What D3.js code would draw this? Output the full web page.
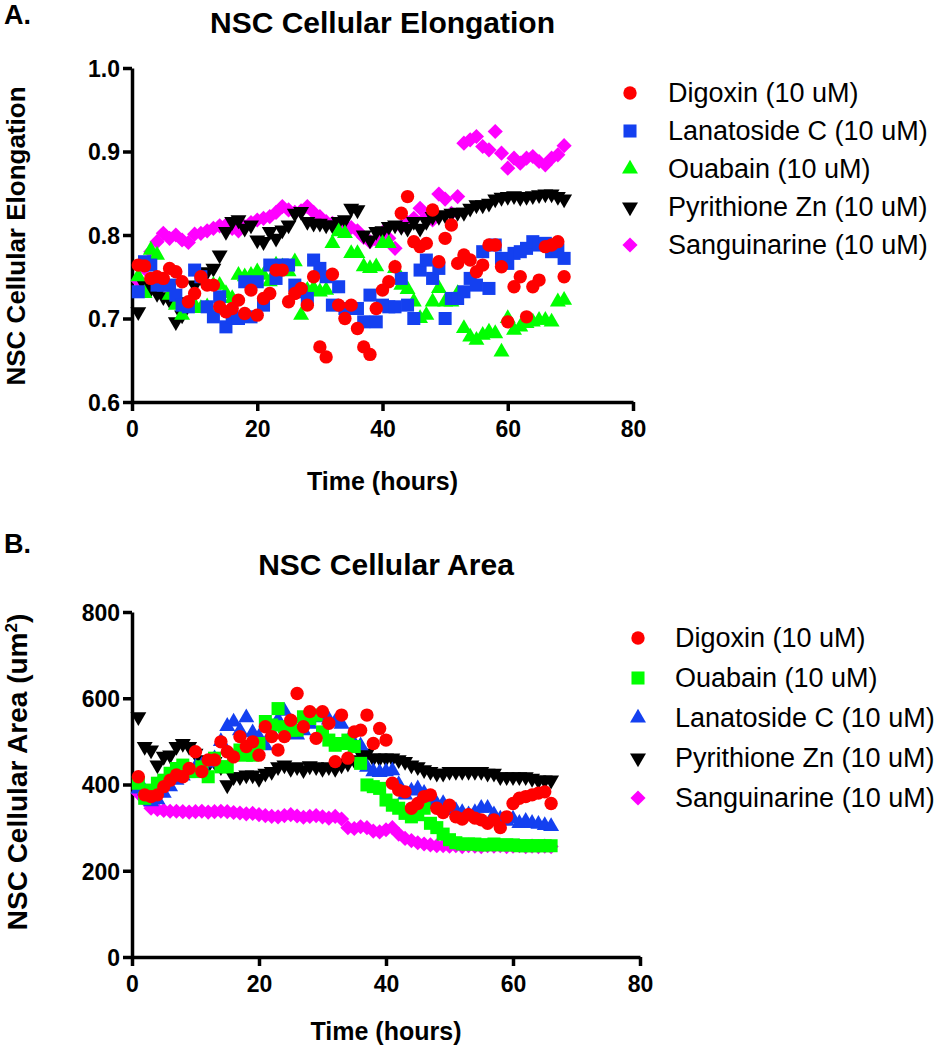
<!DOCTYPE html>
<html><head><meta charset="utf-8">
<script src="https://cdn.jsdelivr.net/npm/d3@7"></script>
<style>
body{margin:0;background:#fff;}
svg{display:block;font-family:"Liberation Sans",Arial,sans-serif;}
</style></head>
<body>
<svg id="c" width="946" height="1050"></svg>
<script>
// ---------- DATA ----------
const hoursA = d3.range(1, 70); // 1..69
const digoxinA = [0.764,0.763,0.748,0.75,0.748,0.76,0.756,0.744,0.72,0.73,0.75,0.74,0.74,0.714,0.708,0.712,0.722,0.706,0.734,0.704,0.724,0.73,0.758,0.758,0.72,0.73,0.736,0.716,0.75,0.666,0.654,0.753,0.716,0.70,0.716,0.688,0.666,0.657,0.712,0.734,0.744,0.762,0.826,0.846,0.792,0.786,0.79,0.83,0.768,0.796,0.812,0.766,0.776,0.77,0.756,0.764,0.788,0.788,0.762,0.696,0.738,0.75,0.702,0.738,0.746,0.786,0.788,0.792,0.75];
const lanatosideA = [0.732,0.768,0.764,0.74,0.74,0.74,0.728,0.716,0.714,0.758,0.75,0.714,0.702,0.726,0.69,0.702,0.70,0.744,0.702,0.744,0.716,0.764,0.748,0.764,0.764,0.74,0.732,0.724,0.77,0.76,0.75,0.716,0.738,0.712,0.712,0.712,0.696,0.728,0.696,0.716,0.714,0.714,0.748,0.716,0.70,0.758,0.77,0.748,0.76,0.70,0.724,0.724,0.732,0.748,0.74,0.78,0.736,0.788,0.772,0.766,0.778,0.78,0.784,0.792,0.788,0.79,0.78,0.782,0.772];
const ouabainA = [0.75,0.73,0.782,0.776,0.74,0.728,0.716,0.704,0.712,0.716,0.712,0.714,0.74,0.74,0.73,0.724,0.752,0.75,0.752,0.756,0.752,0.744,0.764,0.762,0.756,0.768,0.704,0.734,0.736,0.732,0.734,0.79,0.804,0.802,0.778,0.778,0.762,0.76,0.762,0.79,0.79,0.76,0.74,0.735,0.72,0.70,0.704,0.72,0.736,0.72,0.72,0.73,0.688,0.678,0.674,0.68,0.684,0.682,0.66,0.70,0.686,0.69,0.694,0.696,0.698,0.698,0.696,0.72,0.722];
const pyrithioneA = [0.708,0.74,0.736,0.73,0.726,0.722,0.696,0.704,0.72,0.74,0.75,0.756,0.76,0.776,0.804,0.816,0.818,0.808,0.812,0.794,0.792,0.804,0.796,0.806,0.812,0.826,0.828,0.816,0.814,0.814,0.812,0.812,0.816,0.818,0.832,0.83,0.80,0.794,0.804,0.805,0.81,0.812,0.81,0.808,0.816,0.808,0.816,0.822,0.822,0.824,0.826,0.827,0.827,0.832,0.836,0.836,0.838,0.843,0.845,0.846,0.847,0.845,0.846,0.847,0.848,0.849,0.849,0.846,0.843];
const sanguinarineA = [0.745,0.76,0.78,0.792,0.802,0.796,0.80,0.794,0.791,0.801,0.802,0.805,0.808,0.811,0.812,0.808,0.805,0.81,0.815,0.818,0.82,0.822,0.827,0.834,0.83,0.827,0.829,0.834,0.827,0.822,0.816,0.814,0.812,0.812,0.809,0.805,0.797,0.792,0.794,0.803,0.796,0.784,0.81,0.815,0.82,0.832,0.822,0.818,0.849,0.843,0.826,0.846,0.91,0.914,0.918,0.906,0.902,0.924,0.898,0.88,0.892,0.886,0.892,0.894,0.888,0.884,0.892,0.896,0.907];

const hoursB = d3.range(1, 67); // 1..66
const digoxinB = [418,376,372,376,395,410,422,418,437,476,430,457,457,499,476,464,511,488,499,468,534,511,480,511,549,611,534,569,507,569,542,453,561,461,522,526,561,495,530,503,403,387,383,345,356,372,376,345,335,352,325,320,330,322,318,310,318,300,325,356,368,372,376,380,383,356];
const ouabainB = [403,368,387,403,410,426,437,445,430,430,441,418,461,441,441,468,480,468,468,495,546,538,576,534,526,526,557,553,561,522,503,491,495,503,488,449,399,395,391,364,352,345,333,325,330,345,310,300,285,272,265,262,262,262,260,260,262,260,260,260,258,258,258,258,258,258];
const lanatosideB = [390,385,360,365,380,395,410,420,430,440,445,450,460,500,535,545,525,555,520,510,490,520,550,570,545,515,525,540,555,560,550,545,540,500,495,490,440,430,428,430,432,400,376,385,390,380,360,355,356,345,340,335,330,335,345,345,330,320,315,320,310,315,310,308,305,303];
const pyrithioneB = [557,488,480,445,465,468,488,495,488,472,457,445,453,441,399,418,418,422,422,414,426,430,441,445,437,441,434,443,441,437,441,437,445,449,457,472,472,461,461,461,461,457,453,445,441,434,430,426,426,430,430,430,430,430,430,426,426,418,418,418,418,418,414,410,410,410];
const sanguinarineB = [380,365,345,342,340,338,338,337,336,337,338,336,337,338,337,335,334,332,333,330,328,326,325,328,330,327,324,326,328,325,322,326,320,300,298,302,300,292,290,295,300,285,275,270,265,262,260,258,258,257,258,256,258,257,256,258,257,258,256,257,258,256,257,256,257,256];

const xTicks = [0, 20, 40, 60, 80];
const yTicksA = [0.6, 0.7, 0.8, 0.9, 1.0];
const yTicksB = [0, 200, 400, 600, 800];

const legendA = ["Digoxin (10 uM)", "Lanatoside C (10 uM)", "Ouabain (10 uM)", "Pyrithione Zn (10 uM)", "Sanguinarine (10 uM)"];
const legendB = ["Digoxin (10 uM)", "Ouabain (10 uM)", "Lanatoside C (10 uM)", "Pyrithione Zn (10 uM)", "Sanguinarine (10 uM)"];

// ---------- STYLE ----------
const RED = "#ff0000", BLUE = "#1440f0", GREEN = "#00ff00", BLACK = "#000000", MAG = "#ff00ff";
const sym = {
  circle: {type: d3.symbolCircle, size: 140, rot: 0},
  square: {type: d3.symbolSquare, size: 170, rot: 0},
  up: {type: d3.symbolTriangle, size: 110, rot: 0},
  down: {type: d3.symbolTriangle, size: 110, rot: 180},
  diamond: {type: d3.symbolSquare, size: 115, rot: 45}
};

const svg = d3.select("#c");

function panel(cfg) {
  const g = svg.append("g");
  const x = d3.scaleLinear().domain([0, 80]).range([cfg.x0, cfg.x1]);
  const y = d3.scaleLinear().domain(cfg.ydom).range([cfg.yb, cfg.yt]);

  g.append("text").attr("x", 4).attr("y", cfg.letterY).attr("font-size", 27).attr("font-weight", "bold").text(cfg.letter);
  g.append("text").attr("x", (cfg.x0 + cfg.x1) / 2).attr("y", cfg.titleY).attr("text-anchor", "middle")
    .attr("font-size", 30).attr("font-weight", "bold").text(cfg.title);

  const xa = g.append("g").attr("transform", `translate(0,${cfg.yb})`)
    .call(d3.axisBottom(x).tickValues(xTicks).tickSize(9).tickSizeOuter(0).tickPadding(5));
  const ya = g.append("g").attr("transform", `translate(${cfg.x0},0)`)
    .call(d3.axisLeft(y).tickValues(cfg.yticks).tickSize(9).tickSizeOuter(0).tickPadding(3).tickFormat(cfg.fmt));
  [xa, ya].forEach(a => {
    a.select(".domain").attr("stroke", "#000").attr("stroke-width", 3.5);
    a.selectAll(".tick line").attr("stroke", "#000").attr("stroke-width", 3.5);
    a.selectAll("text").attr("fill", "#000").attr("font-size", 23).attr("font-weight", "bold")
      .attr("font-family", "Liberation Sans, Arial, sans-serif");
  });
  xa.selectAll("text").attr("dy", "0.9em");
  ya.selectAll("text").attr("dy", "0.36em");

  g.append("text").attr("x", (cfg.x0 + cfg.x1) / 2).attr("y", cfg.xtitleY).attr("text-anchor", "middle")
    .attr("font-size", 25).attr("font-weight", "bold").text("Time (hours)");
  const yt = g.append("text").attr("transform", `translate(${cfg.ytitleX},${cfg.ytitleCY}) rotate(-90)`)
    .attr("text-anchor", "middle").attr("font-size", cfg.ytitleSize).attr("font-weight", "bold");
  cfg.ytitle(yt);

  const series = cfg.series.slice().reverse();
  series.forEach(s => {
    const pts = cfg.hours.map((h, i) => ({h, v: s.values[i]})).filter(d => d.v != null);
    const shape = sym[s.shape];
    g.append("g").selectAll("path").data(pts).join("path")
      .attr("d", d3.symbol().type(shape.type).size(shape.size))
      .attr("transform", d => `translate(${x(d.h)},${y(d.v)}) rotate(${shape.rot})`)
      .attr("fill", s.color);
  });

  const lg = g.append("g");
  cfg.series.forEach((s, i) => {
    const yy = cfg.legY0 + i * cfg.legDY;
    const shape = sym[s.shape];
    lg.append("path").attr("d", d3.symbol().type(shape.type).size(shape.size))
      .attr("transform", `translate(${cfg.legX},${yy}) rotate(${shape.rot})`).attr("fill", s.color);
    lg.append("text").attr("x", cfg.legTX).attr("y", yy).attr("dy", "0.35em")
      .attr("font-size", 27).text(cfg.legend[i]);
  });
}

panel({
  letter: "A.", letterY: 24, title: "NSC Cellular Elongation", titleY: 33,
  x0: 132, x1: 633, yt: 68, yb: 402, ydom: [0.6, 1.0], yticks: yTicksA, fmt: d3.format(".1f"),
  xtitleY: 490, ytitleX: 25, ytitleCY: 236, ytitleSize: 26,
  ytitle: t => t.text("NSC Cellular Elongation"),
  hours: hoursA,
  series: [
    {values: digoxinA, color: RED, shape: "circle"},
    {values: lanatosideA, color: BLUE, shape: "square"},
    {values: ouabainA, color: GREEN, shape: "up"},
    {values: pyrithioneA, color: BLACK, shape: "down"},
    {values: sanguinarineA, color: MAG, shape: "diamond"}
  ],
  legend: legendA, legX: 630, legTX: 668, legY0: 93, legDY: 38
});

panel({
  letter: "B.", letterY: 553, title: "NSC Cellular Area", titleY: 575,
  x0: 132, x1: 640, yt: 612, yb: 957, ydom: [0, 800], yticks: yTicksB, fmt: d3.format("d"),
  xtitleY: 1040, ytitleX: 27, ytitleCY: 772, ytitleSize: 28,
  ytitle: t => { t.append("tspan").text("NSC Cellular Area (um"); t.append("tspan").attr("font-size", 17).attr("dy", -10).text("2"); t.append("tspan").attr("dy", 10).text(")"); },
  hours: hoursB,
  series: [
    {values: digoxinB, color: RED, shape: "circle"},
    {values: ouabainB, color: GREEN, shape: "square"},
    {values: lanatosideB, color: BLUE, shape: "up"},
    {values: pyrithioneB, color: BLACK, shape: "down"},
    {values: sanguinarineB, color: MAG, shape: "diamond"}
  ],
  legend: legendB, legX: 638, legTX: 675, legY0: 638, legDY: 40
});
</script>
</body></html>
